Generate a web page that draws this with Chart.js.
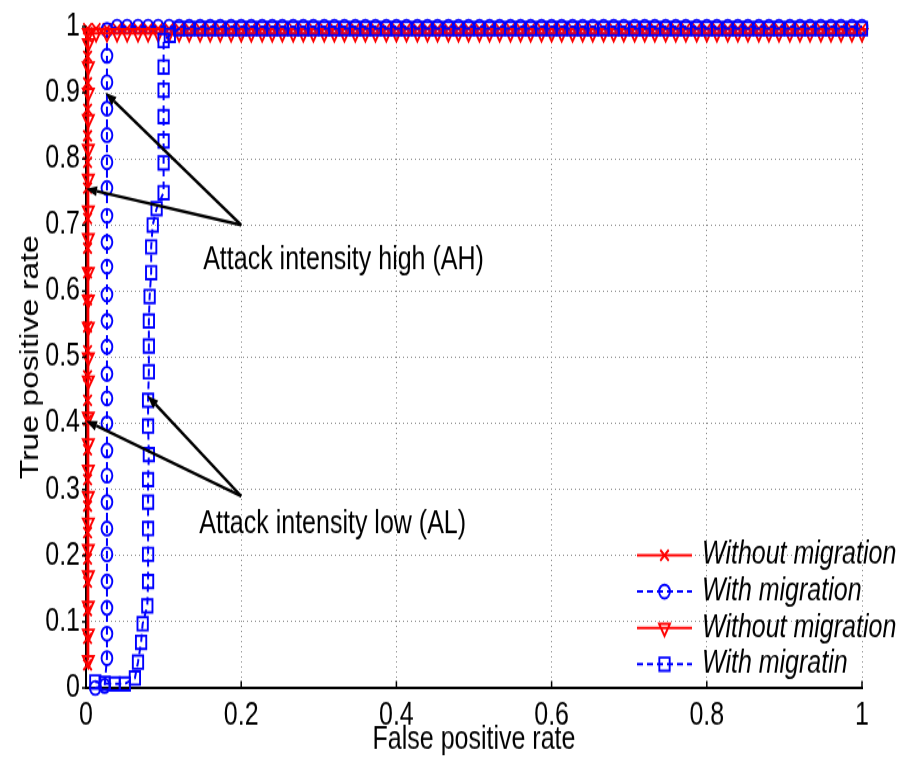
<!DOCTYPE html>
<html>
<head>
<meta charset="utf-8">
<script src="https://cdn.jsdelivr.net/npm/chart.js@4.4.1/dist/chart.umd.min.js"></script>
<style>
  html, body { margin: 0; padding: 0; background: #fff; }
  #wrap { width: 912px; height: 759px; overflow: hidden; }
  /* the reference figure is stretched vertically, so draw flat and stretch */
  #c { display: block; transform: scaleY(1.2692); transform-origin: 0 0; }
</style>
</head>
<body>
<div id="wrap"><canvas id="c" width="912" height="598"></canvas></div>
<script>
// Shared false positive rates where every curve runs along the top
const fprTop = [0.013, 0.027, 0.040, 0.053, 0.067, 0.080, 0.093, 0.107, 0.120, 0.133,
  0.147, 0.160, 0.173, 0.187, 0.200, 0.213, 0.227, 0.240, 0.253, 0.267,
  0.280, 0.293, 0.307, 0.320, 0.333, 0.347, 0.360, 0.373, 0.387, 0.400,
  0.413, 0.427, 0.440, 0.453, 0.467, 0.480, 0.493, 0.507, 0.520, 0.533,
  0.547, 0.560, 0.573, 0.587, 0.600, 0.613, 0.627, 0.640, 0.653, 0.667,
  0.680, 0.693, 0.707, 0.720, 0.733, 0.747, 0.760, 0.773, 0.787, 0.800,
  0.813, 0.827, 0.840, 0.853, 0.867, 0.880, 0.893, 0.907, 0.920, 0.933,
  0.947, 0.960, 0.973, 0.987, 1.000];

// True positive rate each curve sits at along the top
const tprTop = [0.997, 1.0, 0.99, 0.997];

// Without migration (x markers)
const fprNoMigX = [0.002, 0.002, 0.002, 0.002, 0.002, 0.002, 0.002, 0.002, 0.002, 0.002,
  0.002, 0.002, 0.002, 0.002, 0.002, 0.002, 0.002, 0.002, 0.002, 0.002,
  0.002, 0.002, 0.002, 0.002, 0.002, 0.002];
const tprNoMigX = [0.035, 0.075, 0.117, 0.16, 0.195, 0.235, 0.275, 0.315, 0.36, 0.405,
  0.435, 0.472, 0.51, 0.546, 0.587, 0.628, 0.665, 0.71, 0.756, 0.795,
  0.835, 0.875, 0.915, 0.955, 0.985, 0.997];

// With migration (circles)
const fprMigO = [0.012, 0.024, 0.027, 0.027, 0.027, 0.027, 0.027, 0.027, 0.027, 0.027,
  0.027, 0.027, 0.027, 0.027, 0.027, 0.027, 0.027, 0.027, 0.027, 0.027,
  0.027, 0.027, 0.027, 0.027, 0.027, 0.027, 0.027];
const tprMigO = [0, 0.003, 0.045, 0.082, 0.121, 0.161, 0.202, 0.241, 0.281, 0.321,
  0.359, 0.4, 0.438, 0.475, 0.516, 0.555, 0.595, 0.637, 0.674, 0.714,
  0.756, 0.795, 0.836, 0.876, 0.916, 0.956, 0.995];

// Without migration (triangles)
const fprNoMigV = [0.003, 0.003, 0.003, 0.003, 0.003, 0.003, 0.003, 0.003, 0.003, 0.003,
  0.003, 0.003, 0.003, 0.003, 0.003, 0.003, 0.003, 0.003, 0.003, 0.003,
  0.003, 0.003, 0.003, 0.003];
const tprNoMigV = [0.042, 0.082, 0.124, 0.17, 0.21, 0.25, 0.29, 0.33, 0.37, 0.41,
  0.465, 0.5, 0.546, 0.587, 0.629, 0.68, 0.722, 0.77, 0.815, 0.86,
  0.9, 0.94, 0.975, 0.99];

// With migratin (squares)
const fprMigS = [0.012, 0.024, 0.037, 0.05, 0.063, 0.067, 0.071, 0.073, 0.079, 0.08,
  0.08, 0.08, 0.08, 0.08, 0.081, 0.08, 0.08, 0.081, 0.081, 0.081,
  0.082, 0.084, 0.084, 0.086, 0.091, 0.1, 0.1, 0.1, 0.1, 0.1,
  0.1, 0.1, 0.108];
const tprMigS = [0.009, 0.007, 0.006, 0.006, 0.015, 0.039, 0.069, 0.097, 0.124, 0.161,
  0.202, 0.241, 0.281, 0.315, 0.353, 0.396, 0.435, 0.478, 0.517, 0.555,
  0.592, 0.628, 0.667, 0.7, 0.725, 0.749, 0.794, 0.827, 0.864, 0.904,
  0.939, 0.979, 0.987];

const seriesLabels = ['Without migration', 'With migration', 'Without migration', 'With migratin'];

const xTickValues = [0, 0.2, 0.4, 0.6, 0.8, 1];
const xTickLabels = ['0', '0.2', '0.4', '0.6', '0.8', '1'];
const yTickValues = [0, 0.1, 0.2, 0.3, 0.4, 0.5, 0.6, 0.7, 0.8, 0.9, 1];
const yTickLabels = ['0', '0.1', '0.2', '0.3', '0.4', '0.5', '0.6', '0.7', '0.8', '0.9', '1'];

// Annotation text and arrows (data coordinates)
const noteTexts = ['Attack intensity high (AH)', 'Attack intensity low (AL)'];
const noteAnchors = [[0.151, 0.647], [0.146, 0.248]];
const arrowTails = [[0.2, 0.7], [0.2, 0.7], [0.2, 0.29], [0.2, 0.29]];
const arrowHeads = [[0.025, 0.9], [0.0, 0.755], [0.079, 0.442], [0.0, 0.404]];

const FONT = '"Liberation Sans", Arial, Helvetica, sans-serif';

function buildPoints(fpr, tpr, top) {
  const pts = fpr.map((v, i) => ({ x: v, y: tpr[i] }));
  const last = fpr[fpr.length - 1];
  fprTop.filter(v => v > last).forEach(v => pts.push({ x: v, y: top }));
  return pts;
}

const clear = 'rgba(0,0,0,0)';

const datasets = [
  {
    label: seriesLabels[0],
    data: buildPoints(fprNoMigX, tprNoMigX, tprTop[0]),
    borderColor: '#ff0000', borderWidth: 2,
    pointStyle: 'crossRot', pointRadius: 6, pointBorderWidth: 1.9,
    pointBorderColor: '#ff0000', pointBackgroundColor: clear,
    order: 4
  },
  {
    label: seriesLabels[1],
    data: buildPoints(fprMigO, tprMigO, tprTop[1]),
    borderColor: '#0000ff', borderWidth: 2, borderDash: [6, 4],
    pointStyle: 'circle', pointRadius: 5.4, pointBorderWidth: 1.9,
    pointBorderColor: '#0000ff', pointBackgroundColor: clear,
    order: 3
  },
  {
    label: seriesLabels[2],
    data: buildPoints(fprNoMigV, tprNoMigV, tprTop[2]),
    borderColor: '#ff0000', borderWidth: 2,
    pointStyle: 'triangle', pointRotation: 180, pointRadius: 6.3, pointBorderWidth: 1.9,
    pointBorderColor: '#ff0000', pointBackgroundColor: clear,
    order: 2
  },
  {
    label: seriesLabels[3],
    data: buildPoints(fprMigS, tprMigS, tprTop[3]),
    borderColor: '#0000ff', borderWidth: 2, borderDash: [6, 4],
    pointStyle: 'rect', pointRadius: 7.3, pointBorderWidth: 1.9,
    pointBorderColor: '#0000ff', pointBackgroundColor: clear,
    order: 1
  }
];
datasets.forEach(d => { d.showLine = true; d.fill = false; d.tension = 0; d.clip = false; });

function marker(ctx, style, x, y, radius, rotation, width) {
  if (Chart.helpers && Chart.helpers.drawPoint) {
    Chart.helpers.drawPoint(ctx, { pointStyle: style, radius: radius, rotation: rotation || 0, borderWidth: width }, x, y);
  }
}

// inward x ticks and short outward y ticks, like the original axes
const tickMarks = {
  id: 'tickMarks',
  afterDatasetsDraw(chart) {
    const { ctx, chartArea, scales: { x, y } } = chart;
    ctx.save();
    ctx.strokeStyle = '#000';
    ctx.lineWidth = 1.5;
    xTickValues.forEach(v => {
      const px = x.getPixelForValue(v);
      ctx.beginPath();
      ctx.moveTo(px, chartArea.bottom);
      ctx.lineTo(px, chartArea.bottom - 5.5);
      ctx.stroke();
    });
    yTickValues.forEach(v => {
      const py = y.getPixelForValue(v);
      ctx.beginPath();
      ctx.moveTo(chartArea.left - 4, py);
      ctx.lineTo(chartArea.left, py);
      ctx.stroke();
    });
    ctx.restore();
  }
};

// arrows and the two text notes
const notes = {
  id: 'notes',
  afterDatasetsDraw(chart) {
    const { ctx, scales: { x, y } } = chart;
    ctx.save();
    ctx.strokeStyle = '#000';
    ctx.fillStyle = '#000';
    ctx.lineWidth = 2.5;
    arrowTails.forEach((t, i) => {
      const x0 = x.getPixelForValue(t[0]), y0 = y.getPixelForValue(t[1]);
      const x1 = x.getPixelForValue(arrowHeads[i][0]), y1 = y.getPixelForValue(arrowHeads[i][1]);
      const ang = Math.atan2(y1 - y0, x1 - x0);
      const len = 11, half = 4;
      const bx = x1 - len * Math.cos(ang), by = y1 - len * Math.sin(ang);
      ctx.beginPath();
      ctx.moveTo(x0, y0);
      ctx.lineTo(bx, by);
      ctx.stroke();
      ctx.beginPath();
      ctx.moveTo(x1, y1);
      ctx.lineTo(bx + half * Math.sin(ang), by - half * Math.cos(ang));
      ctx.lineTo(bx - half * Math.sin(ang), by + half * Math.cos(ang));
      ctx.closePath();
      ctx.fill();
    });
    ctx.font = '25px ' + FONT;
    ctx.textAlign = 'left';
    ctx.textBaseline = 'middle';
    noteTexts.forEach((t, i) => {
      ctx.fillText(t, x.getPixelForValue(noteAnchors[i][0]), y.getPixelForValue(noteAnchors[i][1]));
    });
    ctx.restore();
  }
};

// legend without a box, lower right
const lineLegend = {
  id: 'lineLegend',
  afterDraw(chart) {
    const { ctx, chartArea } = chart;
    const x0 = chartArea.right - 225, x1 = chartArea.right - 170, tx = chartArea.right - 160;
    const top = chartArea.bottom - 104.5, step = 28.6;
    ctx.save();
    ctx.font = 'italic 25px ' + FONT;
    ctx.textAlign = 'left';
    ctx.textBaseline = 'middle';
    chart.data.datasets.forEach((d, i) => {
      const yy = top + i * step;
      ctx.strokeStyle = d.borderColor;
      ctx.lineWidth = d.borderWidth;
      ctx.setLineDash(d.borderDash || []);
      ctx.beginPath();
      ctx.moveTo(x0, yy);
      ctx.lineTo(x1, yy);
      ctx.stroke();
      ctx.setLineDash([]);
      ctx.fillStyle = clear;
      ctx.lineWidth = d.pointBorderWidth;
      marker(ctx, d.pointStyle, (x0 + x1) / 2, yy, d.pointRadius, d.pointRotation, d.pointBorderWidth);
      ctx.fillStyle = '#000';
      ctx.fillText(d.label, tx, yy);
    });
    ctx.restore();
  }
};

const gridStyle = {
  color: '#8c8c8c',
  lineWidth: 1,
  drawTicks: false
};

new Chart(document.getElementById('c'), {
  type: 'scatter',
  data: { datasets: datasets },
  options: {
    responsive: false,
    animation: false,
    events: [],
    layout: { padding: { top: 15, right: 50, left: 0, bottom: 0 } },
    plugins: {
      legend: { display: false },
      tooltip: { enabled: false }
    },
    scales: {
      x: {
        type: 'linear',
        min: 0,
        max: 1,
        afterBuildTicks: s => { s.ticks = xTickValues.map(v => ({ value: v })); },
        afterFit: s => { s.height = 56; },
        grid: gridStyle,
        border: { display: true, color: '#000', width: 2, dash: [1, 3] },
        ticks: {
          padding: 7,
          color: '#000',
          font: { family: FONT, size: 25 },
          maxRotation: 0,
          callback: (v, i) => xTickLabels[i]
        },
        title: {
          display: true,
          text: 'False positive rate',
          color: '#000',
          font: { family: FONT, size: 25 },
          padding: { top: 0, bottom: 0 }
        }
      },
      y: {
        type: 'linear',
        min: 0,
        max: 1,
        afterBuildTicks: s => { s.ticks = yTickValues.map(v => ({ value: v })); },
        afterFit: s => { s.width = 86; },
        grid: gridStyle,
        border: { display: true, color: '#000', width: 2, dash: [1, 3] },
        ticks: {
          padding: 6,
          color: '#000',
          font: { family: FONT, size: 25 },
          callback: (v, i) => yTickLabels[i]
        },
        title: {
          display: true,
          text: 'True positive rate',
          color: '#000',
          font: { family: FONT, size: 25 },
          padding: { top: 16, bottom: 0 }
        }
      }
    }
  },
  plugins: [tickMarks, notes, lineLegend]
});
</script>
</body>
</html>
